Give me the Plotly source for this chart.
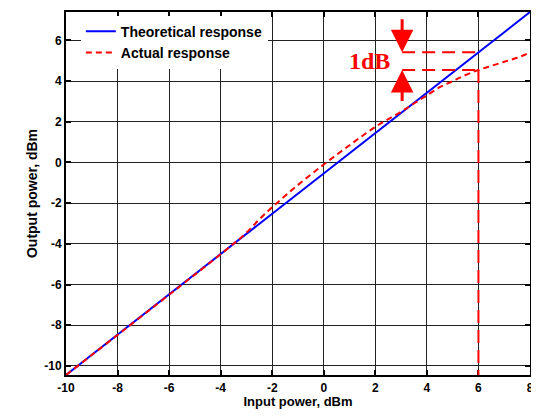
import numpy as np
import plotly.graph_objects as go

# ---- data ----
theory_input = [-10, 8]
theory_output = [-10.45, 7.4]

actual_input = [-10, -3.5, -3, -2.5, -2, -1, 0, 1, 2, 3, 3.5, 4, 4.5, 5, 5.5, 6, 6.5, 7, 7.5, 8]
actual_output = [-10.45, -4.0, -3.45, -2.8, -2.2, -1.1, -0.1, 0.85, 1.75, 2.5, 2.9, 3.3, 3.7, 4.0, 4.3, 4.55, 4.75, 4.95, 5.15, 5.4]

x_ticks = [-10, -8, -6, -4, -2, 0, 2, 4, 6, 8]
y_ticks = [-10, -8, -6, -4, -2, 0, 2, 4, 6]

p1db_input = 6
x_range = [-10, 8]
y_range = [-10.45, 7.4]
annot_x = 3.04

y_theo_p = float(np.interp(p1db_input, theory_input, theory_output))
y_act_p = float(np.interp(p1db_input, actual_input, actual_output))

fig = go.Figure()
fig.add_trace(go.Scatter(x=theory_input, y=theory_output, mode="lines",
                         name="<b>Theoretical response</b>",
                         line=dict(color="#0000ff", width=2)))
fig.add_trace(go.Scatter(x=actual_input, y=actual_output, mode="lines",
                         name="<b>Actual response</b>", line_shape="spline",
                         line=dict(color="#ff0000", width=2, dash="6px,4px")))

dash_annot = dict(color="#ff0000", width=2, dash="13px,7px")
fig.add_shape(type="line", x0=annot_x, x1=p1db_input, y0=y_theo_p, y1=y_theo_p,
              xref="x", yref="y", line=dash_annot)
fig.add_shape(type="line", x0=annot_x, x1=p1db_input, y0=y_act_p, y1=y_act_p,
              xref="x", yref="y", line=dash_annot)
fig.add_shape(type="line", x0=p1db_input, x1=p1db_input, y0=y_act_p, y1=y_range[0],
              xref="x", yref="y", line=dash_annot)

fig.add_annotation(x=annot_x, y=y_theo_p, ax=annot_x, ay=y_theo_p + 1.7,
                   xref="x", yref="y", axref="x", ayref="y", text="",
                   showarrow=True, arrowhead=2, arrowsize=1.5, arrowwidth=3,
                   arrowcolor="#ff0000", standoff=0)
fig.add_annotation(x=annot_x, y=y_act_p, ax=annot_x, ay=y_act_p - 1.6,
                   xref="x", yref="y", axref="x", ayref="y", text="",
                   showarrow=True, arrowhead=2, arrowsize=1.5, arrowwidth=3,
                   arrowcolor="#ff0000", standoff=0)
fig.add_annotation(x=annot_x - 0.4, y=(y_theo_p + y_act_p) / 2, xref="x", yref="y",
                   text="<b>1dB</b>", showarrow=False, xanchor="right",
                   font=dict(family="Liberation Serif", size=24, color="#ff0000"))

axis_common = dict(showline=True, linecolor="black", linewidth=2, mirror="ticks",
                   ticks="inside", ticklen=5, tickwidth=2, tickcolor="black",
                   showgrid=True, gridcolor="#222222", gridwidth=1, zeroline=False,
                   automargin=False,
                   tickfont=dict(family="Arial", size=12, color="black"))

fig.update_xaxes(range=x_range, tickvals=x_ticks,
                 ticktext=[f"<b>{v}</b>" for v in x_ticks],
                 ticklabelstandoff=1,
                 title=dict(text="<b>Input power, dBm</b>", standoff=5,
                            font=dict(family="Arial", size=13, color="black")),
                 **axis_common)
fig.update_yaxes(range=y_range, tickvals=y_ticks,
                 ticktext=[f"<b>{v}</b>" for v in y_ticks],
                 title=dict(text="<b>Output power, dBm</b>", standoff=3,
                            font=dict(family="Arial", size=14, color="black")),
                 **axis_common)

# page body has an 8px margin; size/margins compensate so the plot area
# lands where it is in the reference
fig.update_layout(
    width=531, height=401,
    margin=dict(l=58, r=9, t=4, b=34),
    paper_bgcolor="white", plot_bgcolor="white",
    font=dict(family="Arial", color="black"),
    legend=dict(x=0.032, y=0.99, xanchor="left", yanchor="top",
                bgcolor="white", borderwidth=0,
                font=dict(family="Arial", size=14, color="black")),
    showlegend=True,
)

fig.write_html("out.html")
